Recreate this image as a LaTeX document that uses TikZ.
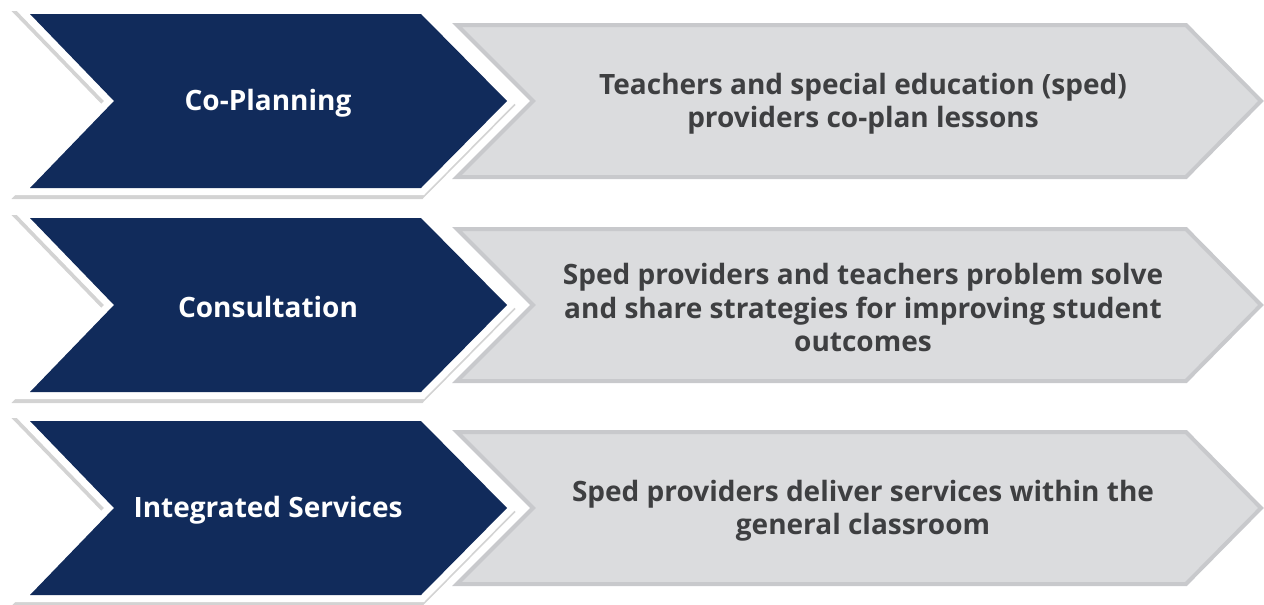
\documentclass[tikz,border=0pt]{standalone}
\usepackage{fontspec}
\setmainfont{Open Sans}
\usetikzlibrary{positioning,shadows}
\definecolor{navy}{HTML}{112B5B}
\definecolor{boxgray}{HTML}{DBDCDE}
\definecolor{edgegray}{HTML}{C8C9CC}
\definecolor{textgray}{HTML}{3E3F41}

\tikzset{
  titletext/.style={text=white, font=\bfseries\fontsize{28}{33.5}\selectfont},
  desctext/.style={text=textgray, align=center, font=\bfseries\fontsize{28}{33.5}\selectfont},
  whiteedge/.style={fill=white, drop shadow={shadow xshift=-1.5pt, shadow yshift=-4pt, opacity=0.35}},
  grayarrow/.style={fill=boxgray, draw=edgegray, line width=4pt, line join=miter}
}

\begin{document}
\begin{tikzpicture}[x=1pt, y=-1pt]
\useasboundingbox (0,0) rectangle (1264,605);
\foreach \cy/\name/\title/\desc in {
  101/plan/Co-Planning/{Teachers and special education (sped)\\providers co-plan lessons},
  305/consult/Consultation/{Sped providers and teachers problem solve\\and share strategies for improving student\\outcomes},
  508/serv/Integrated Services/{Sped providers deliver services within the\\general classroom}}
{
  % light step
  \path[grayarrow] (457,\cy-76) -- (1186,\cy-76) -- (1261,\cy) -- (1186,\cy+76)
    -- (457,\cy+76) -- (533,\cy) -- cycle;
  % dark step with white rim
  \path[whiteedge] (13,\cy-94) -- (424,\cy-94) -- (517,\cy) -- (424,\cy+94)
    -- (13,\cy+94) -- (104,\cy) -- cycle;
  \path[fill=navy] (30,\cy-87) -- (421,\cy-87) -- (507,\cy) -- (421,\cy+87)
    -- (30,\cy+87) -- (114,\cy) -- cycle;
  \node[titletext] (\name-title) at (268,\cy+2) {\title};
  \node[desctext] (\name-desc) at (863,\cy+2.5) {\desc};
}
\end{tikzpicture}
\end{document}
